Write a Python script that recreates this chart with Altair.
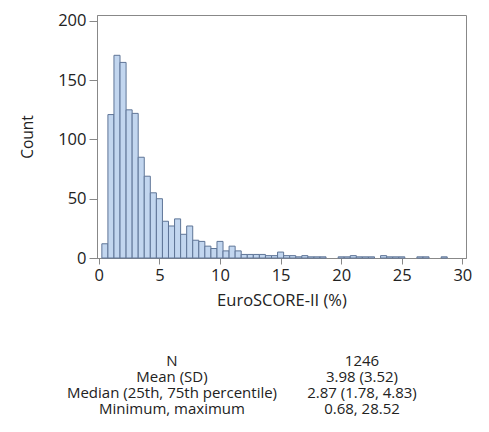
import altair as alt
import pandas as pd

# Histogram bin midpoints (EuroSCORE-II %, bin width 0.5) and counts
bin_mid = [0.5, 1.0, 1.5, 2.0, 2.5, 3.0, 3.5, 4.0, 4.5, 5.0,
           5.5, 6.0, 6.5, 7.0, 7.5, 8.0, 8.5, 9.0, 9.5, 10.0,
           10.5, 11.0, 11.5, 12.0, 12.5, 13.0, 13.5, 14.0, 14.5, 15.0,
           15.5, 16.0, 16.5, 17.0, 17.5, 18.0, 18.5, 19.0, 19.5, 20.0,
           20.5, 21.0, 21.5, 22.0, 22.5, 23.0, 23.5, 24.0, 24.5, 25.0,
           25.5, 26.0, 26.5, 27.0, 27.5, 28.0, 28.5]
counts = [12, 121, 171, 165, 125, 122, 85, 69, 55, 50,
          31, 27, 33, 20, 27, 15, 14, 10, 8, 14,
          6, 10, 6, 3, 3, 3, 3, 2, 2, 5,
          2, 2, 1, 2, 1, 1, 1, 0, 0, 1,
          1, 2, 1, 1, 1, 0, 2, 1, 1, 1,
          0, 0, 1, 1, 0, 0, 1]
bin_width = 0.5

# Summary table
stat_labels = ["N", "Mean (SD)", "Median (25th, 75th percentile)", "Minimum, maximum"]
stat_values = ["1246", "3.98 (3.52)", "2.87 (1.78, 4.83)", "0.68, 28.52"]

hist_df = pd.DataFrame({"mid": bin_mid, "count": counts})
hist_df["start"] = hist_df["mid"] - bin_width / 2
hist_df["end"] = hist_df["mid"] + bin_width / 2
hist_df = hist_df[hist_df["count"] > 0]

rows = []
for i, (l, v) in enumerate(zip(stat_labels, stat_values)):
    rows.append({"row": i, "col": "label", "text": l})
    rows.append({"row": i, "col": "value", "text": v})
table_df = pd.DataFrame(rows)

FONT = "Open Sans"
TXT = "#222222"

bars = alt.Chart(hist_df).mark_bar(
    fill="#c2d6ef", stroke="#5f7597", strokeWidth=1
).encode(
    x=alt.X("start:Q",
            scale=alt.Scale(domain=[-0.15, 30.3], nice=False, zero=False),
            axis=alt.Axis(values=[0, 5, 10, 15, 20, 25, 30], title="EuroSCORE-II (%)",
                          grid=False, tickSize=6, labelPadding=3, titlePadding=9,
                          domainColor="#888888", tickColor="#888888",
                          labelFontSize=16.5, titleFontSize=16.5, labelColor=TXT,
                          titleColor=TXT, labelFont=FONT, titleFont=FONT,
                          titleFontWeight="normal")),
    x2="end:Q",
    y=alt.Y("count:Q",
            scale=alt.Scale(domain=[0, 205], nice=False),
            axis=alt.Axis(values=[0, 50, 100, 150, 200], title="Count",
                          grid=False, tickSize=8, labelPadding=3, titlePadding=22,
                          domainColor="#888888", tickColor="#888888",
                          labelFontSize=16.5, titleFontSize=15.5, labelColor=TXT,
                          titleColor=TXT, labelFont=FONT, titleFont=FONT,
                          titleFontWeight="normal")),
    y2=alt.datum(0),
)

table = alt.Chart(table_df).mark_text(
    font=FONT, fontSize=15, color=TXT, baseline="middle", align="center"
).encode(
    x=alt.X("col:N", scale=alt.Scale(type="point", domain=["label", "value"],
                                     range=[75, 265], padding=0), axis=None),
    y=alt.Y("row:O", scale=alt.Scale(type="point", domain=[0, 1, 2, 3],
                                     range=[346, 394], padding=0), axis=None),
    text="text:N",
)

chart = alt.layer(bars, table).resolve_scale(x="independent", y="independent").properties(
    width=369, height=243,
    padding={"left": 12, "top": 4, "right": 5, "bottom": 5},
    background="white",
).configure_view(stroke="#888888", strokeWidth=1)

chart.save("out.html", embed_options={"renderer": "svg", "actions": False})
